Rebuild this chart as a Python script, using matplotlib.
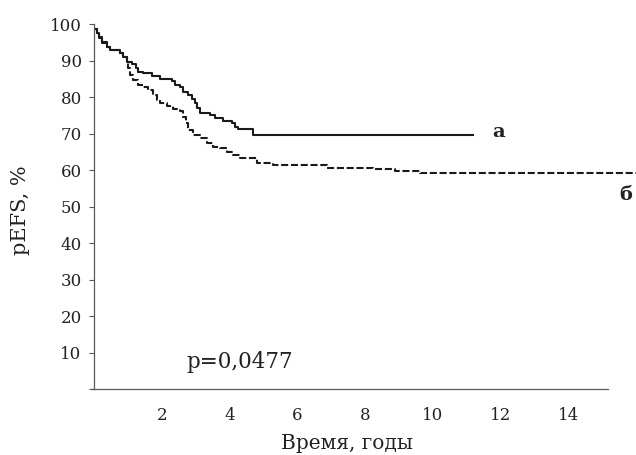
import matplotlib
matplotlib.use("Agg")
import matplotlib.pyplot as plt

# Group "а" (solid)
solid_t = [0, 0.10, 0.15, 0.23, 0.37, 0.47, 0.77, 0.87, 0.96, 1.11, 1.24, 1.31, 1.46, 1.70,
           1.95, 2.29, 2.39, 2.54, 2.64, 2.78, 2.88, 2.98, 3.05, 3.13, 3.42, 3.57, 3.82,
           4.06, 4.16, 4.26, 4.70, 11.18]
solid_s = [98.8, 97.6, 96.6, 95.2, 93.9, 93.0, 92.1, 91.1, 89.8, 89.0, 87.9, 87.0, 86.6, 85.8,
           84.9, 84.5, 83.4, 82.7, 81.5, 80.6, 79.5, 78.4, 77.0, 75.6, 75.2, 74.2, 73.6,
           72.9, 71.8, 71.2, 69.7, 69.7]

# Group "б" (dashed)
dashed_t = [0, 0.10, 0.15, 0.23, 0.37, 0.47, 0.77, 0.87, 0.96, 1.01, 1.06, 1.16, 1.31, 1.46,
            1.60, 1.75, 1.85, 1.95, 2.15, 2.34, 2.54, 2.64, 2.72, 2.78, 2.93, 3.13, 3.33,
            3.52, 3.72, 3.92, 4.11, 4.31, 4.80, 5.29, 6.87, 8.25, 8.89, 9.62, 16.0]
dashed_s = [98.8, 97.6, 96.3, 95.0, 93.9, 93.0, 92.1, 91.1, 89.8, 87.9, 86.1, 84.7, 83.4, 82.9,
            82.0, 80.6, 79.3, 78.4, 77.6, 76.7, 76.2, 74.7, 72.9, 71.0, 69.7, 68.8, 67.6,
            66.5, 66.0, 65.1, 64.2, 63.3, 61.9, 61.5, 60.7, 60.3, 59.9, 59.3, 59.3]

y_ticks = [0, 10, 20, 30, 40, 50, 60, 70, 80, 90, 100]
y_labels = ["", "10", "20", "30", "40", "50", "60", "70", "80", "90", "100"]
x_label_ticks = [2, 4, 6, 8, 10, 12, 14]
x_mark_ticks = [2, 6, 10, 14]

plt.rcParams["font.family"] = ["DejaVu Serif"]

fig = plt.figure(figsize=(6.36, 4.55), dpi=100)
ax = fig.add_axes([94 / 636, 1 - 389.3 / 455, 1 - 94 / 636, (389.3 - 24.3) / 455])

line_col = "#1a1a1a"
ax.step(solid_t, solid_s, where="post", color=line_col, lw=1.5)
ax.step(dashed_t, dashed_s, where="post", color=line_col, lw=1.5, linestyle=(0, (3.4, 1.3)))

ax.set_xlim(0, 16)
ax.set_ylim(0, 100)

for s in ["top", "right"]:
    ax.spines[s].set_visible(False)
spine_col = "#5a5a5a"
ax.spines["left"].set_color(spine_col)
ax.spines["bottom"].set_color(spine_col)
ax.spines["left"].set_linewidth(0.9)
ax.spines["bottom"].set_linewidth(0.9)
ax.spines["bottom"].set_bounds(-0.08, 15.17)
ax.spines["left"].set_bounds(0, 100)

ax.set_yticks(y_ticks)
ax.set_yticklabels(y_labels)
ax.tick_params(axis="y", direction="out", length=3.6, width=0.8, color=spine_col,
               pad=5.3, labelsize=12, labelcolor="#222222")

ax.set_xticks(x_label_ticks)
ax.set_xticklabels([str(v) for v in x_label_ticks])
ax.set_xticks(x_mark_ticks, minor=True)
ax.tick_params(axis="x", which="major", length=0, pad=13, labelsize=12, labelcolor="#222222")
ax.tick_params(axis="x", which="minor", direction="out", length=3.6, width=0.8, color=spine_col)

ax.set_xlabel("Время, годы", fontsize=14.5, color="#222222", va="baseline")
ax.xaxis.set_label_coords((347 - 94) / 542, -(449 - 389.3) / 365)
ax.set_ylabel("pEFS, %", fontsize=15, color="#222222")
ax.yaxis.set_label_coords((30 - 94) / 542, (389.3 - 210) / 365)

ax.text(2.74, 5.8, "p=0,0477", fontsize=15.5, color="#222222", ha="left", va="baseline")
ax.text(11.94, 70.6, "а", fontsize=14, fontweight="bold", color="#222222", ha="center", va="center")
ax.text(15.7, 53.2, "б", fontsize=14, fontweight="bold", color="#222222", ha="center", va="center")

fig.savefig("out.png", dpi=100)
